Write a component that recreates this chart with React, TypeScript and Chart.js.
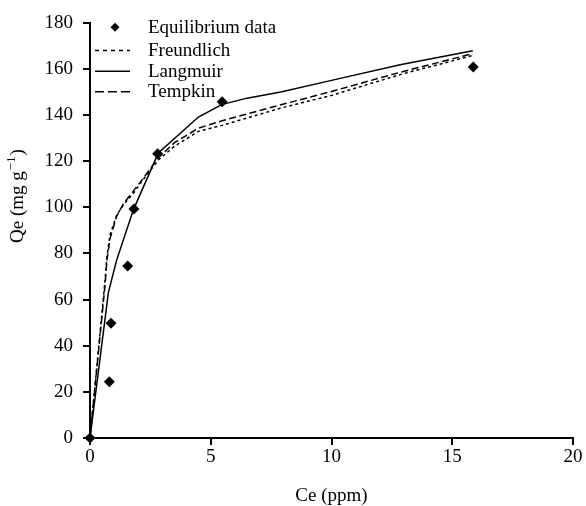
import React, { useEffect, useRef } from "react";
import { Chart, registerables } from "chart.js";

Chart.register(...registerables);

// Equilibrium data (markers)
const dataCe = [0, 0.8, 0.87, 1.56, 1.82, 2.8, 5.47, 15.87];
const dataQe = [0, 24.4, 49.7, 74.6, 99.2, 123.2, 145.7, 160.8];

// Langmuir curve
const langCe = [0, 0.76, 1.1, 1.8, 2.83, 4.49, 5.45, 6.5, 7.9, 10, 12.84, 15.85];
const langQe = [0, 63, 77, 99, 123.5, 139.1, 144.5, 147.3, 150, 155, 161.8, 167.8];

// Freundlich & Tempkin curves
const fitCe = [0, 0.62, 0.7, 0.83, 1.1, 1.38, 1.79, 2.2, 2.83, 3.5, 4.49, 5.47, 7.9, 10, 12.84, 15.85];
const freuQe = [0, 68, 78.5, 88, 96.5, 101, 106, 112, 120.5, 126.5, 132.9, 135.5, 143, 148.5, 157.5, 165.8];
const tempQe = [0, 66, 77, 86.5, 96, 101.5, 107, 112.5, 121.5, 128, 134.3, 137.5, 144.4, 150.2, 158.5, 166.6];

const seriesNames = ["Equilibrium data", "Freundlich", "Langmuir", "Tempkin"];
const xTitle = "Ce (ppm)";
const yTitleMain = "Qe (mg g";
const yTitleSup = "\u22121";
const xMin = 0, xMax = 20, xStep = 5;
const yMin = 0, yMax = 180, yStep = 20;

const FONT = '"Liberation Serif", "Times New Roman", serif';
const FS = 19;

const toPts = (xs: number[], ys: number[]) => xs.map((x, i) => ({ x, y: ys[i] }));

const legendDash: Record<string, number[]> = {
  Freundlich: [4, 4],
  Langmuir: [],
  Tempkin: [9, 4],
};

const overlayPlugin = {
  id: "overlay",
  afterDraw(chart: any) {
    const ctx = chart.ctx as CanvasRenderingContext2D;
    const area = chart.chartArea;
    ctx.save();
    ctx.fillStyle = "#000";
    ctx.strokeStyle = "#000";
    ctx.font = `${FS}px ${FONT}`;

    // X title
    ctx.textAlign = "center";
    ctx.textBaseline = "alphabetic";
    ctx.fillText(xTitle, (area.left + area.right) / 2, 501);

    // Y title (rotated, with superscript)
    ctx.save();
    ctx.translate(23, 243);
    ctx.rotate(-Math.PI / 2);
    ctx.textAlign = "left";
    ctx.font = `${FS}px ${FONT}`;
    ctx.fillText(yTitleMain, 0, 0);
    const w1 = ctx.measureText(yTitleMain).width;
    ctx.font = `13px ${FONT}`;
    ctx.fillText(yTitleSup, w1 + 1, -8);
    const w2 = ctx.measureText(yTitleSup).width;
    ctx.font = `${FS}px ${FONT}`;
    ctx.fillText(")", w1 + w2 + 2, 0);
    ctx.restore();

    // Legend
    const baselines = [32.7, 56, 76.7, 97.3];
    ctx.textAlign = "left";
    ctx.textBaseline = "alphabetic";
    chart.data.datasets.forEach((ds: any, i: number) => {
      const by = baselines[i];
      const cy = by - 5.5;
      if (!ds.showLine) {
        ctx.beginPath();
        const r = 4.5;
        ctx.moveTo(115, cy - r);
        ctx.lineTo(115 + r, cy);
        ctx.lineTo(115, cy + r);
        ctx.lineTo(115 - r, cy);
        ctx.closePath();
        ctx.fill();
      } else {
        ctx.save();
        ctx.lineWidth = 1.5;
        ctx.setLineDash(legendDash[ds.label] || []);
        ctx.beginPath();
        ctx.moveTo(95, cy);
        ctx.lineTo(130, cy);
        ctx.stroke();
        ctx.restore();
      }
      ctx.font = `${FS}px ${FONT}`;
      ctx.fillText(ds.label, 148, by);
    });
    ctx.restore();
  },
};

export default function App() {
  const canvasRef = useRef<HTMLCanvasElement | null>(null);

  useEffect(() => {
    const canvas = canvasRef.current;
    if (!canvas) return;
    const chart = new Chart(canvas, {
      type: "scatter",
      data: {
        datasets: [
          {
            label: seriesNames[0],
            data: toPts(dataCe, dataQe),
            showLine: false,
            pointStyle: "rectRot",
            pointRadius: 5.5,
            backgroundColor: "#000",
            borderColor: "#000",
            borderWidth: 0,
            clip: false as any,
          },
          {
            label: seriesNames[1],
            data: toPts(fitCe, freuQe),
            showLine: true,
            pointRadius: 0,
            borderColor: "#000",
            borderWidth: 1.5,
            borderDash: [3, 3],
            tension: 0,
            clip: false as any,
          },
          {
            label: seriesNames[2],
            data: toPts(langCe, langQe),
            showLine: true,
            pointRadius: 0,
            borderColor: "#000",
            borderWidth: 1.5,
            tension: 0,
            clip: false as any,
          },
          {
            label: seriesNames[3],
            data: toPts(fitCe, tempQe),
            showLine: true,
            pointRadius: 0,
            borderColor: "#000",
            borderWidth: 1.5,
            borderDash: [7, 3.5],
            tension: 0,
            clip: false as any,
          },
        ],
      },
      options: {
        responsive: false,
        animation: false,
        events: [],
        layout: { padding: { top: 22.7, right: 13, left: 0, bottom: 0 } },
        plugins: {
          legend: { display: false },
          tooltip: { enabled: false },
          title: { display: false },
        },
        scales: {
          x: {
            type: "linear",
            min: xMin,
            max: xMax,
            afterFit: (s: any) => {
              s.height = 68;
            },
            ticks: {
              stepSize: xStep,
              color: "#000",
              font: { family: FONT, size: FS },
              padding: 1,
              maxRotation: 0,
            },
            grid: {
              drawOnChartArea: false,
              drawTicks: true,
              tickLength: 7,
              color: "#000",
              lineWidth: 2,
            },
            border: { display: true, color: "#000", width: 2 },
          },
          y: {
            type: "linear",
            min: yMin,
            max: yMax,
            afterFit: (s: any) => {
              s.width = 90;
            },
            ticks: {
              stepSize: yStep,
              color: "#000",
              font: { family: FONT, size: FS },
              padding: 10,
            },
            grid: {
              drawOnChartArea: false,
              drawTicks: true,
              tickLength: 7,
              color: "#000",
              lineWidth: 2,
            },
            border: { display: true, color: "#000", width: 2 },
          },
        },
      },
      plugins: [overlayPlugin],
    });
    return () => chart.destroy();
  }, []);

  return (
    <div style={{ position: "fixed", left: 0, top: 0, width: 586, height: 506, background: "#fff" }}>
      <canvas ref={canvasRef} width={586} height={506} style={{ width: 586, height: 506, display: "block" }} />
    </div>
  );
}
